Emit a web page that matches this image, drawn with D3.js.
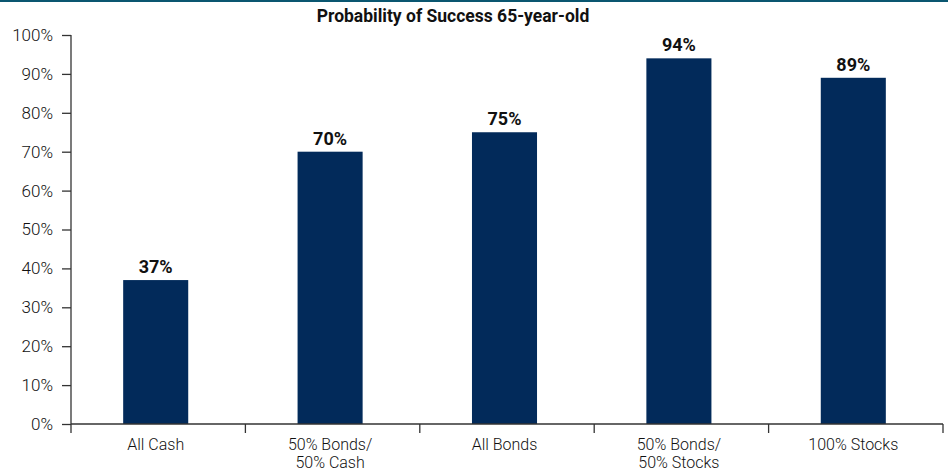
<!DOCTYPE html>
<html>
<head>
<meta charset="utf-8">
<script src="https://cdn.jsdelivr.net/npm/d3@7"></script>
<style>
  body { margin: 0; background: #fff; }
  svg text { font-family: "Liberation Sans Narrow", "Roboto", sans-serif; fill: #111; }
</style>
</head>
<body>
<div id="chart"></div>
<script>
// chart data
var categories = [["All Cash"], ["50% Bonds/", "50% Cash"], ["All Bonds"], ["50% Bonds/", "50% Stocks"], ["100% Stocks"]];
var values = [37, 70, 75, 94, 89];
var yTicks = [0, 10, 20, 30, 40, 50, 60, 70, 80, 90, 100];

var width = 948, height = 475;
var margin = { top: 35, right: 5, bottom: 51, left: 71 };

var svg = d3.select("#chart").append("svg")
    .attr("width", width)
    .attr("height", height);

// teal rule across the top
svg.append("rect")
    .attr("x", 0).attr("y", 0)
    .attr("width", width).attr("height", 2)
    .attr("fill", "#0a5670");

svg.append("text")
    .attr("x", 453).attr("y", 22)
    .attr("text-anchor", "middle")
    .style("font-size", "17.5px")
    .style("font-weight", "bold")
    .text("Probability of Success 65-year-old");

var x = d3.scaleBand()
    .domain(d3.range(categories.length))
    .range([margin.left, width - margin.right])
    .padding(0);

var y = d3.scaleLinear()
    .domain([0, 100])
    .range([height - margin.bottom, margin.top]);

var barW = x.bandwidth() * 0.373;

// y axis
var yAxis = svg.append("g")
    .attr("transform", "translate(" + margin.left + ",0)")
    .call(d3.axisLeft(y).tickValues(yTicks).tickSize(9).tickPadding(9)
      .tickFormat(function(d) { return d + "%"; }));
yAxis.select(".domain").attr("stroke", "#333").attr("stroke-width", 1.3).attr("d", "M0," + y(100) + "V" + y(0));
yAxis.selectAll(".tick line").attr("stroke", "#333").attr("stroke-width", 1.3);
yAxis.selectAll("text").style("font-size", "17px").style("font-weight", 300).attr("fill", "#222");

// bars
svg.append("g").selectAll("rect")
    .data(values)
    .enter().append("rect")
    .attr("x", function(d, i) { return x(i) + x.bandwidth() / 2 - barW / 2 - 2.5; })
    .attr("y", function(d) { return y(d); })
    .attr("width", barW)
    .attr("height", function(d) { return y(0) - y(d); })
    .attr("fill", "#022a5a");

// value labels
svg.append("g").selectAll("text")
    .data(values)
    .enter().append("text")
    .attr("x", function(d, i) { return x(i) + x.bandwidth() / 2 - 2.5; })
    .attr("y", function(d) { return y(d) - 7; })
    .attr("text-anchor", "middle")
    .style("font-size", "18px")
    .style("font-weight", "bold")
    .text(function(d) { return d + "%"; });

// x axis baseline + boundary ticks
var xg = svg.append("g");
xg.append("line")
    .attr("x1", margin.left).attr("x2", width - margin.right)
    .attr("y1", y(0)).attr("y2", y(0))
    .attr("stroke", "#333").attr("stroke-width", 1.3);
xg.selectAll(".sep")
    .data(d3.range(categories.length + 1))
    .enter().append("line")
    .attr("x1", function(i) { return margin.left + i * x.bandwidth(); })
    .attr("x2", function(i) { return margin.left + i * x.bandwidth(); })
    .attr("y1", y(0)).attr("y2", y(0) + 9)
    .attr("stroke", "#333").attr("stroke-width", 1.3);

xg.selectAll(".lab")
    .data(categories)
    .enter().append("text")
    .attr("x", function(d, i) { return x(i) + x.bandwidth() / 2 - 2.5; })
    .attr("y", y(0) + 26)
    .attr("text-anchor", "middle")
    .style("font-size", "16px")
    .style("font-weight", 300)
    .attr("fill", "#222")
    .each(function(d) {
      var t = d3.select(this);
      d.forEach(function(line, k) {
        t.append("tspan")
          .attr("x", t.attr("x"))
          .attr("dy", k === 0 ? 0 : 18)
          .text(line);
      });
    });
</script>
</body>
</html>
